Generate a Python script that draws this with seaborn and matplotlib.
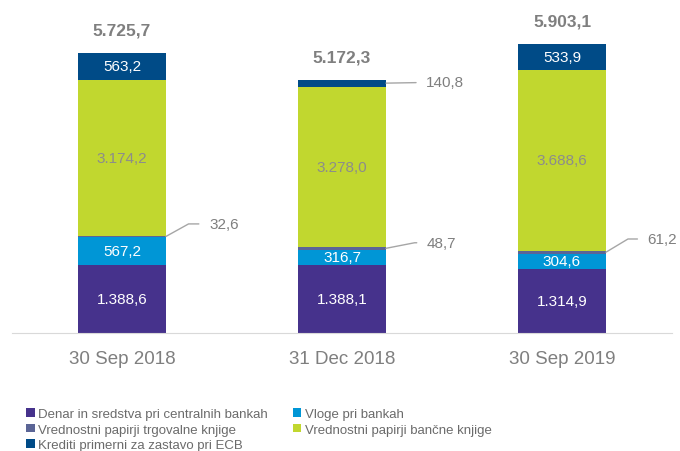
import pandas as pd
import matplotlib.pyplot as plt
import seaborn as sns
from matplotlib.patches import Patch

# ========== Data ==========
dates = ['30 Sep 2018', '31 Dec 2018', '30 Sep 2019']
denar = [1388.6, 1388.1, 1314.9]
vloge = [567.2, 316.7, 304.6]
trgovalne = [32.6, 48.7, 61.2]
bancne = [3174.2, 3278.0, 3688.6]
krediti = [563.2, 140.8, 533.9]
totals = [5725.7, 5172.3, 5903.1]

series = [
    ('Denar in sredstva pri centralnih bankah', denar, '#46328C'),
    ('Vloge pri bankah', vloge, '#0096D6'),
    ('Vrednostni papirji trgovalne knjige', trgovalne, '#5B6596'),
    ('Vrednostni papirji bančne knjige', bancne, '#C1D72F'),
    ('Krediti primerni za zastavo pri ECB', krediti, '#004B87'),
]

df = pd.DataFrame({'date': dates})
cum = [0.0] * len(dates)
for name, vals, _ in series:
    df[name + '_bottom'] = cum
    cum = [c + v for c, v in zip(cum, vals)]
    df[name + '_top'] = cum


def fmt(v):
    return f"{v:,.1f}".replace(',', 'X').replace('.', ',').replace('X', '.')


sns.set_style('white')
plt.rcParams['font.family'] = ['Liberation Sans', 'DejaVu Sans']

fig = plt.figure(figsize=(6.8, 4.52), dpi=100)
ax = fig.add_axes([12 / 680, 118 / 452, 660 / 680, 334 / 452])

# ========== Stacked bars (draw cumulative tops from the largest down) ==========
for name, vals, color in reversed(series):
    sns.barplot(data=df, x='date', y=name + '_top', color=color, width=0.4,
                linewidth=0, saturation=1, ax=ax)

ax.set_ylim(0, 6820)
ax.set_xlim(-0.5, 2.5)

# ========== Labels ==========
grey = '#7F7F7F'
for i in range(len(dates)):
    for name, vals, color in series:
        v = vals[i]
        mid = df.loc[i, name + '_bottom'] + v / 2
        if v < 200:
            continue
        txt_color = '#8C8C8C' if name.endswith('bančne knjige') else 'white'
        ax.text(i, mid, fmt(v), ha='center', va='center', fontsize=11, color=txt_color)
    ax.annotate(fmt(totals[i]), xy=(i, df.loc[i, series[-1][0] + '_top']),
                xytext=(0, 16.5), textcoords='offset points', ha='center', va='center',
                fontsize=12.5, fontweight='bold', color=grey)

# small segments with leader lines
leaders = [
    # (series index, bar index, dx, dy, angle)
    (2, 0, 31, 9, 29),
    (2, 1, 29.5, 4, 11),
    (2, 2, 30, 9.5, 31),
    (4, 1, 29, 0.5, None),
]
for s, i, dx, dy, ang in leaders:
    name, vals, _ = series[s]
    mid = df.loc[i, name + '_bottom'] + vals[i] / 2
    if ang is None:
        conn = 'arc3'
    else:
        conn = f'angle,angleA=0,angleB={ang},rad=0'
    ax.annotate(fmt(vals[i]), xy=(i + 0.2, mid), xytext=(dx, dy),
                textcoords='offset points', ha='left', va='center',
                fontsize=11, color=grey,
                arrowprops=dict(arrowstyle='-', color='#A6A6A6', lw=1,
                                connectionstyle=conn, relpos=(0, 0.5),
                                shrinkA=5, shrinkB=0))

# ========== Axes styling ==========
sns.despine(ax=ax, left=True)
ax.spines['bottom'].set_color('#D9D9D9')
ax.set_yticks([])
ax.set_xlabel('')
ax.set_ylabel('')
ax.tick_params(axis='x', which='major', length=0, labelsize=13.5, labelcolor='#7F7F7F', pad=12)
ax.set_xticks([-0.5, 0.5, 1.5, 2.5], minor=True)
ax.tick_params(axis='x', which='minor', length=5, color='#D9D9D9', direction='out')

# ========== Legend ==========
order = [0, 2, 4, 1, 3]
handles = [Patch(facecolor=series[k][2], edgecolor='none') for k in order]
labels = [series[k][0] for k in order]
fig.legend(handles, labels, loc='upper left', bbox_to_anchor=(26 / 680, 1 - 409 / 452),
           ncol=2, frameon=False, fontsize=9.5, labelcolor='#6B6B6B',
           handlelength=0.65, handleheight=0.65, handletextpad=0.25,
           labelspacing=0.27, columnspacing=1.9, borderpad=0, borderaxespad=0)

plt.savefig('out.png', dpi=100)
